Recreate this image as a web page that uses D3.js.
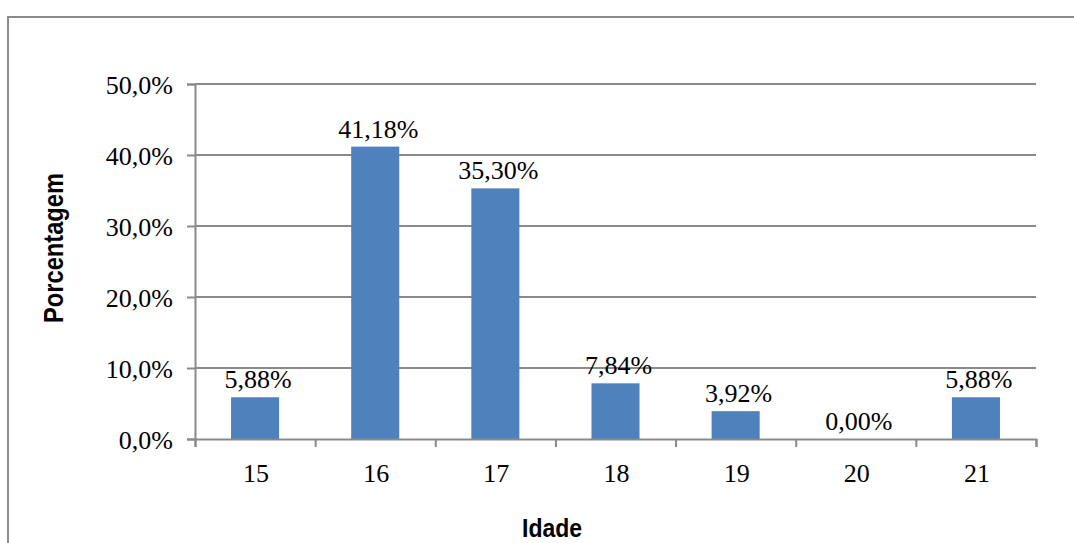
<!DOCTYPE html>
<html>
<head>
<meta charset="utf-8">
<script src="https://cdn.jsdelivr.net/npm/d3@7"></script>
<style>
  html, body { margin: 0; padding: 0; background: #fff; }
  svg { display: block; }
</style>
</head>
<body>
<svg id="chart" width="1074" height="543"></svg>
<script>
// Distribuição por idade
const idades = ["15", "16", "17", "18", "19", "20", "21"];
const porcentagens = [5.88, 41.18, 35.30, 7.84, 3.92, 0.00, 5.88];
const ticksY = [0, 10, 20, 30, 40, 50];
const tituloY = "Porcentagem";
const tituloX = "Idade";

const svg = d3.select("#chart");
const W = 1074, H = 543;
const plot = { left: 195, right: 1036, top: 84, bottom: 439 };
const gray = "#8a8a8a";
const serif = "'Liberation Serif', 'Times New Roman', serif";
const narrow = "'Liberation Sans Narrow', 'Arial Narrow', 'Liberation Sans', Arial, sans-serif";

// outer chart frame (runs past the right and bottom edges)
svg.append("rect")
  .attr("x", 8).attr("y", 17)
  .attr("width", W + 20).attr("height", H + 20)
  .attr("fill", "#fff")
  .attr("stroke", gray).attr("stroke-width", 2);

const x = d3.scaleBand()
  .domain(idades)
  .range([plot.left, plot.right])
  .paddingInner(0.6)
  .paddingOuter(0.3);

const y = d3.scaleLinear()
  .domain([0, 50])
  .range([plot.bottom, plot.top]);

const fmtPct = (v, casas) => v.toFixed(casas).replace(".", ",") + "%";

// horizontal gridlines
svg.append("g")
  .selectAll("line")
  .data(ticksY.filter(t => t > 0))
  .join("line")
  .attr("x1", plot.left).attr("x2", plot.right)
  .attr("y1", d => Math.round(y(d))).attr("y2", d => Math.round(y(d)))
  .attr("stroke", gray).attr("stroke-width", 2);

// bars
svg.append("g")
  .selectAll("rect")
  .data(idades.map((c, i) => ({ c, v: porcentagens[i] })))
  .join("rect")
  .attr("x", d => x(d.c))
  .attr("y", d => y(d.v))
  .attr("width", x.bandwidth())
  .attr("height", d => y(0) - y(d.v))
  .attr("fill", "#4F81BD");

// value labels
svg.append("g")
  .selectAll("text")
  .data(idades.map((c, i) => ({ c, v: porcentagens[i] })))
  .join("text")
  .attr("x", d => x(d.c) + x.bandwidth() / 2 + 3)
  .attr("y", d => y(d.v) - 9)
  .attr("text-anchor", "middle")
  .attr("font-family", serif)
  .attr("font-size", 26)
  .attr("fill", "#000")
  .text(d => fmtPct(d.v, 2));

// y axis
const yAxis = svg.append("g")
  .attr("transform", `translate(${plot.left},0)`)
  .call(d3.axisLeft(y).tickValues(ticksY).tickSize(8).tickPadding(14)
    .tickFormat(d => fmtPct(d, 1)));
yAxis.select(".domain").attr("stroke", gray).attr("stroke-width", 2);
yAxis.selectAll(".tick line").attr("stroke", gray).attr("stroke-width", 2);
yAxis.selectAll(".tick text")
  .attr("font-family", serif).attr("font-size", 26).attr("fill", "#000")
  .attr("dy", "0.36em");

// x axis: tick marks on category boundaries
const xb = d3.scaleLinear().domain([0, idades.length]).range([plot.left, plot.right]);
const xAxis = svg.append("g")
  .attr("transform", `translate(0,${plot.bottom})`)
  .call(d3.axisBottom(xb).tickValues(d3.range(idades.length + 1)).tickSize(8).tickFormat(""));
xAxis.select(".domain").attr("stroke", gray).attr("stroke-width", 2);
xAxis.selectAll(".tick line").attr("stroke", gray).attr("stroke-width", 2);

// category labels
svg.append("g")
  .selectAll("text")
  .data(idades)
  .join("text")
  .attr("x", d => x(d) + x.bandwidth() / 2 + 1)
  .attr("y", 482)
  .attr("text-anchor", "middle")
  .attr("font-family", serif)
  .attr("font-size", 26)
  .attr("fill", "#000")
  .text(d => d);

// axis titles
svg.append("text")
  .attr("transform", "translate(63,248) rotate(-90)")
  .attr("text-anchor", "middle")
  .attr("font-family", narrow)
  .attr("font-weight", "bold")
  .attr("font-size", 28)
  .attr("textLength", 150)
  .attr("lengthAdjust", "spacingAndGlyphs")
  .attr("fill", "#000")
  .text(tituloY);

svg.append("text")
  .attr("x", 552)
  .attr("y", 537)
  .attr("text-anchor", "middle")
  .attr("font-family", narrow)
  .attr("font-weight", "bold")
  .attr("font-size", 26)
  .attr("textLength", 60)
  .attr("lengthAdjust", "spacingAndGlyphs")
  .attr("fill", "#000")
  .text(tituloX);
</script>
</body>
</html>
